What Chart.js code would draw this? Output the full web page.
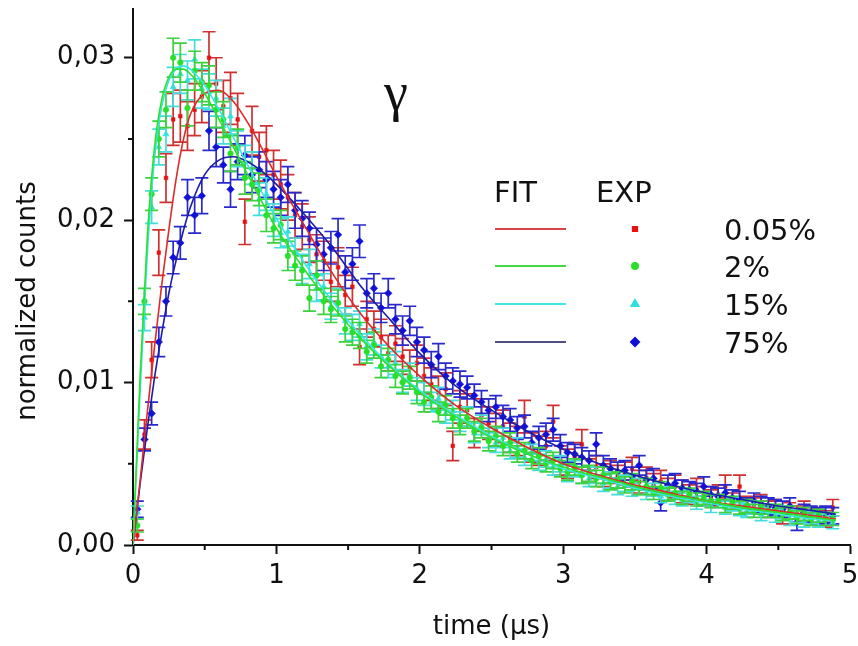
<!DOCTYPE html>
<html>
<head>
<meta charset="utf-8">
<title>gamma decay</title>
<script src="https://cdn.jsdelivr.net/npm/chart.js@4/dist/chart.umd.min.js"></script>
<style>
    html, body { margin: 0; padding: 0; background: #fff; }
    canvas { display: block; }
</style>
</head>
<body>
<canvas id="gammaChart" width="858" height="646"></canvas>
<script>
// time bins (µs), shared by all measured series
const binTimes = [
    0.03, 0.08, 0.13, 0.18, 0.23, 0.28, 0.33, 0.38, 0.43, 0.48,
    0.53, 0.58, 0.63, 0.68, 0.73, 0.78, 0.83, 0.88, 0.93, 0.98,
    1.03, 1.08, 1.13, 1.18, 1.23, 1.28, 1.33, 1.38, 1.43, 1.48,
    1.53, 1.58, 1.63, 1.68, 1.73, 1.78, 1.83, 1.88, 1.93, 1.98,
    2.03, 2.08, 2.13, 2.18, 2.23, 2.28, 2.33, 2.38, 2.43, 2.48,
    2.53, 2.58, 2.63, 2.68, 2.73, 2.78, 2.83, 2.88, 2.93, 2.98,
    3.03, 3.08, 3.13, 3.18, 3.23, 3.28, 3.33, 3.38, 3.43, 3.48,
    3.53, 3.58, 3.63, 3.68, 3.73, 3.78, 3.83, 3.88, 3.93, 3.98,
    4.03, 4.08, 4.13, 4.18, 4.23, 4.28, 4.33, 4.38, 4.43, 4.48,
    4.53, 4.58, 4.63, 4.68, 4.73, 4.78, 4.83, 4.88,
];

// 0.05%
const expRed = [
    0.0006, 0.0068, 0.0114, 0.0180, 0.0226, 0.0262, 0.0264, 0.0258, 0.0268, 0.0276,
    0.0300, 0.0284, 0.0270, 0.0275, 0.0262, 0.0199, 0.0255, 0.0239, 0.0243, 0.0228,
    0.0222, 0.0214, 0.0203, 0.0196, 0.0188, 0.0179, 0.0175, 0.0162, 0.0171, 0.0154,
    0.0159, 0.0122, 0.0139, 0.0133, 0.0128, 0.0118, 0.0124, 0.0116, 0.0109, 0.0112,
    0.0104, 0.0099, 0.0094, 0.0096, 0.0061, 0.0085, 0.0083, 0.0069, 0.0080, 0.0075,
    0.0071, 0.0073, 0.0066, 0.0064, 0.0079, 0.0060, 0.0058, 0.0061, 0.0076, 0.0052,
    0.0050, 0.0054, 0.0062, 0.0046, 0.0048, 0.0043, 0.0045, 0.0042, 0.0044, 0.0047,
    0.0039, 0.0041, 0.0037, 0.0039, 0.0034, 0.0036, 0.0033, 0.0031, 0.0034, 0.0030,
    0.0029, 0.0031, 0.0036, 0.0027, 0.0036, 0.0025, 0.0024, 0.0026, 0.0022, 0.0023,
    0.0018, 0.0021, 0.0019, 0.0022, 0.0018, 0.0017, 0.0016, 0.0023,
];
const errRed = [
    0.0003, 0.0009, 0.0011, 0.0014, 0.0015, 0.0016, 0.0016, 0.0015, 0.0016, 0.0016,
    0.0016, 0.0016, 0.0016, 0.0016, 0.0016, 0.0014, 0.0015, 0.0015, 0.0015, 0.0015,
    0.0015, 0.0014, 0.0014, 0.0014, 0.0014, 0.0012, 0.0012, 0.0012, 0.0012, 0.0012,
    0.0012, 0.0011, 0.0011, 0.0011, 0.0011, 0.0011, 0.0011, 0.0011, 0.0011, 0.0011,
    0.0011, 0.0010, 0.0010, 0.0010, 0.0009, 0.0010, 0.0010, 0.0009, 0.0010, 0.0010,
    0.0010, 0.0010, 0.0009, 0.0009, 0.0010, 0.0009, 0.0009, 0.0009, 0.0010, 0.0009,
    0.0009, 0.0009, 0.0009, 0.0007, 0.0007, 0.0007, 0.0007, 0.0007, 0.0007, 0.0007,
    0.0007, 0.0007, 0.0007, 0.0007, 0.0007, 0.0007, 0.0007, 0.0006, 0.0007, 0.0006,
    0.0005, 0.0006, 0.0007, 0.0005, 0.0007, 0.0005, 0.0005, 0.0005, 0.0005, 0.0005,
    0.0005, 0.0005, 0.0005, 0.0005, 0.0005, 0.0005, 0.0005, 0.0005,
];

// 2%
const expGreen = [
    0.0012, 0.0150, 0.0216, 0.0250, 0.0268, 0.0300, 0.0297, 0.0269, 0.0292, 0.0285,
    0.0283, 0.0268, 0.0262, 0.0241, 0.0245, 0.0226, 0.0222, 0.0219, 0.0203, 0.0195,
    0.0197, 0.0178, 0.0172, 0.0169, 0.0152, 0.0166, 0.0150, 0.0145, 0.0149, 0.0133,
    0.0131, 0.0129, 0.0119, 0.0123, 0.0110, 0.0114, 0.0104, 0.0100, 0.0103, 0.0094,
    0.0088, 0.0091, 0.0082, 0.0086, 0.0078, 0.0074, 0.0078, 0.0070, 0.0072, 0.0064,
    0.0067, 0.0061, 0.0063, 0.0056, 0.0058, 0.0052, 0.0055, 0.0050, 0.0052, 0.0047,
    0.0045, 0.0048, 0.0043, 0.0044, 0.0041, 0.0043, 0.0039, 0.0040, 0.0037, 0.0039,
    0.0035, 0.0036, 0.0032, 0.0035, 0.0031, 0.0032, 0.0029, 0.0031, 0.0028, 0.0029,
    0.0027, 0.0027, 0.0024, 0.0026, 0.0023, 0.0024, 0.0021, 0.0023, 0.0021, 0.0021,
    0.0019, 0.0020, 0.0017, 0.0019, 0.0016, 0.0018, 0.0016, 0.0016,
];
const errGreen = [
    0.0004, 0.0008, 0.0010, 0.0011, 0.0011, 0.0012, 0.0012, 0.0011, 0.0012, 0.0012,
    0.0012, 0.0011, 0.0011, 0.0011, 0.0011, 0.0010, 0.0010, 0.0010, 0.0010, 0.0009,
    0.0009, 0.0009, 0.0009, 0.0009, 0.0008, 0.0009, 0.0008, 0.0008, 0.0008, 0.0008,
    0.0008, 0.0008, 0.0007, 0.0008, 0.0007, 0.0007, 0.0007, 0.0007, 0.0007, 0.0007,
    0.0006, 0.0007, 0.0006, 0.0006, 0.0006, 0.0006, 0.0006, 0.0006, 0.0006, 0.0006,
    0.0006, 0.0006, 0.0006, 0.0005, 0.0005, 0.0005, 0.0005, 0.0005, 0.0005, 0.0005,
    0.0005, 0.0005, 0.0005, 0.0005, 0.0005, 0.0005, 0.0005, 0.0005, 0.0005, 0.0005,
    0.0004, 0.0005, 0.0004, 0.0004, 0.0004, 0.0004, 0.0004, 0.0004, 0.0004, 0.0004,
    0.0004, 0.0004, 0.0004, 0.0004, 0.0004, 0.0004, 0.0004, 0.0004, 0.0004, 0.0004,
    0.0004, 0.0004, 0.0004, 0.0004, 0.0004, 0.0004, 0.0004, 0.0004,
];

// 15%
const expCyan = [
    0.0020, 0.0140, 0.0208, 0.0245, 0.0253, 0.0282, 0.0290, 0.0286, 0.0299, 0.0281,
    0.0279, 0.0275, 0.0258, 0.0264, 0.0244, 0.0236, 0.0232, 0.0213, 0.0216, 0.0200,
    0.0192, 0.0193, 0.0180, 0.0170, 0.0173, 0.0158, 0.0159, 0.0147, 0.0150, 0.0138,
    0.0134, 0.0136, 0.0122, 0.0125, 0.0116, 0.0110, 0.0112, 0.0101, 0.0105, 0.0096,
    0.0093, 0.0088, 0.0090, 0.0081, 0.0083, 0.0076, 0.0079, 0.0069, 0.0074, 0.0066,
    0.0063, 0.0066, 0.0058, 0.0060, 0.0054, 0.0057, 0.0051, 0.0053, 0.0048, 0.0050,
    0.0044, 0.0047, 0.0043, 0.0041, 0.0043, 0.0038, 0.0040, 0.0036, 0.0038, 0.0034,
    0.0036, 0.0032, 0.0034, 0.0030, 0.0032, 0.0029, 0.0028, 0.0030, 0.0026, 0.0028,
    0.0024, 0.0027, 0.0023, 0.0025, 0.0022, 0.0021, 0.0023, 0.0019, 0.0021, 0.0018,
    0.0020, 0.0016, 0.0018, 0.0015, 0.0017, 0.0015, 0.0016, 0.0014,
];
const errCyan = [
    0.0004, 0.0008, 0.0010, 0.0011, 0.0011, 0.0012, 0.0012, 0.0012, 0.0012, 0.0012,
    0.0011, 0.0011, 0.0011, 0.0011, 0.0011, 0.0010, 0.0010, 0.0010, 0.0010, 0.0010,
    0.0009, 0.0009, 0.0009, 0.0009, 0.0009, 0.0008, 0.0008, 0.0008, 0.0008, 0.0008,
    0.0008, 0.0008, 0.0008, 0.0008, 0.0007, 0.0007, 0.0007, 0.0007, 0.0007, 0.0007,
    0.0007, 0.0006, 0.0007, 0.0006, 0.0006, 0.0006, 0.0006, 0.0006, 0.0006, 0.0006,
    0.0006, 0.0006, 0.0005, 0.0006, 0.0005, 0.0005, 0.0005, 0.0005, 0.0005, 0.0005,
    0.0005, 0.0005, 0.0005, 0.0005, 0.0005, 0.0005, 0.0005, 0.0005, 0.0005, 0.0004,
    0.0005, 0.0004, 0.0004, 0.0004, 0.0004, 0.0004, 0.0004, 0.0004, 0.0004, 0.0004,
    0.0004, 0.0004, 0.0004, 0.0004, 0.0004, 0.0004, 0.0004, 0.0004, 0.0004, 0.0004,
    0.0004, 0.0004, 0.0004, 0.0004, 0.0004, 0.0004, 0.0004, 0.0004,
];

// 75%
const expBlue = [
    0.0022, 0.0065, 0.0081, 0.0125, 0.0150, 0.0177, 0.0186, 0.0214, 0.0203, 0.0215,
    0.0255, 0.0245, 0.0234, 0.0219, 0.0236, 0.0240, 0.0228, 0.0231, 0.0225, 0.0219,
    0.0214, 0.0222, 0.0206, 0.0201, 0.0195, 0.0185, 0.0179, 0.0183, 0.0191, 0.0168,
    0.0173, 0.0187, 0.0155, 0.0158, 0.0146, 0.0155, 0.0139, 0.0132, 0.0138, 0.0125,
    0.0120, 0.0111, 0.0116, 0.0104, 0.0101, 0.0099, 0.0097, 0.0092, 0.0088, 0.0083,
    0.0085, 0.0079, 0.0077, 0.0072, 0.0073, 0.0063, 0.0066, 0.0068, 0.0071, 0.0061,
    0.0057, 0.0056, 0.0054, 0.0052, 0.0062, 0.0049, 0.0047, 0.0045, 0.0046, 0.0042,
    0.0049, 0.0040, 0.0041, 0.0026, 0.0037, 0.0038, 0.0035, 0.0034, 0.0033, 0.0036,
    0.0031, 0.0030, 0.0032, 0.0029, 0.0028, 0.0024, 0.0027, 0.0025, 0.0024, 0.0023,
    0.0022, 0.0024, 0.0014, 0.0020, 0.0019, 0.0018, 0.0019, 0.0018,
];
const errBlue = [
    0.0005, 0.0007, 0.0007, 0.0009, 0.0009, 0.0010, 0.0010, 0.0011, 0.0011, 0.0011,
    0.0012, 0.0012, 0.0011, 0.0011, 0.0011, 0.0012, 0.0011, 0.0011, 0.0011, 0.0011,
    0.0011, 0.0011, 0.0011, 0.0011, 0.0010, 0.0010, 0.0010, 0.0010, 0.0010, 0.0010,
    0.0010, 0.0010, 0.0009, 0.0009, 0.0009, 0.0009, 0.0009, 0.0009, 0.0009, 0.0009,
    0.0008, 0.0008, 0.0008, 0.0008, 0.0008, 0.0008, 0.0007, 0.0007, 0.0007, 0.0007,
    0.0007, 0.0007, 0.0007, 0.0007, 0.0007, 0.0007, 0.0007, 0.0007, 0.0007, 0.0007,
    0.0006, 0.0006, 0.0006, 0.0006, 0.0007, 0.0006, 0.0006, 0.0006, 0.0006, 0.0006,
    0.0006, 0.0006, 0.0006, 0.0005, 0.0006, 0.0006, 0.0005, 0.0005, 0.0005, 0.0006,
    0.0005, 0.0005, 0.0005, 0.0005, 0.0005, 0.0005, 0.0005, 0.0005, 0.0005, 0.0005,
    0.0005, 0.0005, 0.0005, 0.0005, 0.0005, 0.0005, 0.0005, 0.0005,
];

// fitted curves
const fitTimes = [0, 0.05, 0.1, 0.15, 0.2, 0.25, 0.3, 0.35, 0.4, 0.5, 0.6, 0.7, 0.8, 0.9, 1.0,
    1.2, 1.4, 1.6, 1.8, 2.0, 2.25, 2.5, 2.75, 3.0, 3.25, 3.5, 3.75, 4.0, 4.25, 4.5, 4.75, 4.9];
const fitRed = [0, 0.0040, 0.0082, 0.0122, 0.0160, 0.0194, 0.0225, 0.0249, 0.0265, 0.0278, 0.0280, 0.0273, 0.0260, 0.0244, 0.0227,
    0.0196, 0.0166, 0.0141, 0.0121, 0.0104, 0.0086, 0.0072, 0.0060, 0.0050, 0.0043, 0.0037, 0.0032, 0.0027, 0.0024, 0.0021, 0.0018, 0.0016];
const fitGreen = [0, 0.0105, 0.0190, 0.0245, 0.0274, 0.0288, 0.0293, 0.0293, 0.0290, 0.0278, 0.0262, 0.0245, 0.0228, 0.0211, 0.0195,
    0.0169, 0.0146, 0.0126, 0.0109, 0.0094, 0.0079, 0.0066, 0.0056, 0.0048, 0.0042, 0.0036, 0.0031, 0.0027, 0.0023, 0.0020, 0.0017, 0.0015];
const fitCyan = [0, 0.0095, 0.0180, 0.0238, 0.0270, 0.0286, 0.0293, 0.0295, 0.0293, 0.0283, 0.0268, 0.0251, 0.0234, 0.0217, 0.0201,
    0.0173, 0.0149, 0.0128, 0.0110, 0.0095, 0.0080, 0.0067, 0.0056, 0.0047, 0.0041, 0.0035, 0.0030, 0.0026, 0.0022, 0.0019, 0.0016, 0.0015];
const fitBlue = [0, 0.0038, 0.0072, 0.0103, 0.0130, 0.0155, 0.0175, 0.0193, 0.0208, 0.0228, 0.0237, 0.0239, 0.0236, 0.0230, 0.0222,
    0.0203, 0.0182, 0.0158, 0.0138, 0.0118, 0.0098, 0.0083, 0.0070, 0.0059, 0.0050, 0.0043, 0.0037, 0.0032, 0.0028, 0.0024, 0.0021, 0.0019];

const seriesLabels = ['0.05%', '2%', '15%', '75%'];

// axes
const xMajorTicks = [0, 1, 2, 3, 4, 5];
const xTickLabels = ['0', '1', '2', '3', '4', '5'];
const xMinorTicks = [0.5, 1.5, 2.5, 3.5, 4.5];
const yMajorTicks = [0, 0.01, 0.02, 0.03];
const yTickLabels = ['0,00', '0,01', '0,02', '0,03'];
const yMinorTicks = [0.005, 0.015, 0.025];

const FONT = 'DejaVu Sans';
const INK = '#111111';

function toPoints(xs, ys) {
    return xs.map((x, i) => ({ x: x, y: ys[i] }));
}

function fitDataset(values, color) {
    return {
        data: toPoints(fitTimes, values),
        showLine: true,
        borderColor: color,
        borderWidth: 1.6,
        pointRadius: 0,
        cubicInterpolationMode: 'monotone',
        fill: false,
    };
}

function expDataset(values, errors, color, barColor, style, radius) {
    return {
        data: toPoints(binTimes, values),
        errors: errors,
        errorColor: barColor,
        showLine: false,
        pointStyle: style,
        pointRadius: radius,
        pointBackgroundColor: color,
        pointBorderColor: color,
        pointBorderWidth: 0.5,
    };
}

const errorBars = {
    id: 'errorBars',
    beforeDatasetDraw(chart, args) {
        const dataset = chart.data.datasets[args.index];
        if (!dataset.errors) {
            return;
        }
        const { ctx, scales: { x, y } } = chart;
        const cap = 6.5;
        ctx.save();
        ctx.strokeStyle = dataset.errorColor;
        ctx.lineWidth = 1.7;
        ctx.beginPath();
        dataset.data.forEach((point, i) => {
            const px = x.getPixelForValue(point.x);
            const top = y.getPixelForValue(point.y + dataset.errors[i]);
            const bottom = y.getPixelForValue(Math.max(point.y - dataset.errors[i], 0));
            ctx.moveTo(px, top);
            ctx.lineTo(px, bottom);
            ctx.moveTo(px - cap, top);
            ctx.lineTo(px + cap, top);
            ctx.moveTo(px - cap, bottom);
            ctx.lineTo(px + cap, bottom);
        });
        ctx.stroke();
        ctx.restore();
    },
};

const minorTicks = {
    id: 'minorTicks',
    afterDraw(chart) {
        const { ctx, scales: { x, y } } = chart;
        ctx.save();
        ctx.strokeStyle = INK;
        ctx.lineWidth = 2;
        ctx.beginPath();
        xMinorTicks.forEach((v) => {
            const px = x.getPixelForValue(v);
            ctx.moveTo(px, x.top);
            ctx.lineTo(px, x.top + 5);
        });
        yMinorTicks.forEach((v) => {
            const py = y.getPixelForValue(v);
            ctx.moveTo(y.right, py);
            ctx.lineTo(y.right - 5, py);
        });
        ctx.stroke();
        ctx.restore();
    },
};

// hand-placed key (FIT / EXP columns), the gamma label and the y title,
// which sits a little below the middle of the axis in the original
const keyPanel = {
    id: 'keyPanel',
    afterDraw(chart) {
        const { ctx } = chart;
        const rows = [229, 266, 304, 342];
        const lineColors = ['#d84444', '#44d844', '#44e4e4', '#50507e'];
        const markers = [
            { style: 'rect', color: '#e81010', radius: 3 },
            { style: 'circle', color: '#28e028', radius: 3 },
            { style: 'triangle', color: '#30e0e0', radius: 4 },
            { style: 'rectRot', color: '#1010d8', radius: 4 },
        ];

        ctx.save();
        ctx.fillStyle = INK;
        ctx.textBaseline = 'alphabetic';
        ctx.textAlign = 'left';
        ctx.font = '29px "' + FONT + '"';
        ctx.fillText('FIT', 494, 202);
        ctx.fillText('EXP', 596, 202);

        rows.forEach((rowY, i) => {
            ctx.strokeStyle = lineColors[i];
            ctx.lineWidth = 2;
            ctx.beginPath();
            ctx.moveTo(495, rowY);
            ctx.lineTo(566, rowY);
            ctx.stroke();

            ctx.fillStyle = markers[i].color;
            ctx.strokeStyle = markers[i].color;
            Chart.helpers.drawPoint(ctx, {
                pointStyle: markers[i].style,
                radius: markers[i].radius,
                borderWidth: 0.5,
            }, 635, rowY);

            ctx.fillStyle = INK;
            ctx.fillText(seriesLabels[i], 724, rowY + 11);
        });

        ctx.font = '54px "Liberation Serif"';
        ctx.textAlign = 'center';
        ctx.fillText('γ', 396, 110);

        ctx.translate(35, 301);
        ctx.rotate(-Math.PI / 2);
        ctx.font = '26px "' + FONT + '"';
        ctx.fillText('normalized counts', 0, 0);
        ctx.restore();
    },
};

new Chart(document.getElementById('gammaChart'), {
    type: 'scatter',
    data: {
        datasets: [
            fitDataset(fitGreen, '#2ee02e'),
            fitDataset(fitCyan, '#38e6e6'),
            fitDataset(fitRed, '#dd2a2a'),
            fitDataset(fitBlue, '#1c1ca8'),
            expDataset(expGreen, errGreen, '#28e028', '#3cd23c', 'circle', 2.8),
            expDataset(expCyan, errCyan, '#30e0e0', '#44dcdc', 'triangle', 3.5),
            expDataset(expBlue, errBlue, '#1010d8', '#2a2acc', 'rectRot', 3.8),
            expDataset(expRed, errRed, '#e81010', '#d03030', 'rect', 2.6),
        ],
    },
    options: {
        responsive: false,
        animation: false,
        layout: {
            padding: { top: 9, right: 8, bottom: 0, left: 0 },
        },
        plugins: {
            legend: { display: false },
            tooltip: { enabled: false },
        },
        scales: {
            x: {
                type: 'linear',
                min: 0,
                max: 5,
                afterBuildTicks: (scale) => {
                    scale.ticks = xMajorTicks.map((v) => ({ value: v }));
                },
                afterFit: (scale) => {
                    scale.height = 101;
                    scale.paddingLeft = 0;
                    scale.paddingRight = 0;
                },
                grid: {
                    drawOnChartArea: false,
                    tickLength: 9,
                    tickWidth: 2,
                    tickColor: INK,
                },
                border: { color: INK, width: 2 },
                ticks: {
                    autoSkip: false,
                    maxRotation: 0,
                    padding: 7,
                    color: INK,
                    font: { family: FONT, size: 26 },
                    callback: (value, index) => xTickLabels[index],
                },
                title: {
                    display: true,
                    text: 'time (μs)',
                    color: INK,
                    font: { family: FONT, size: 26 },
                    padding: { top: 0, bottom: 3 },
                },
            },
            y: {
                type: 'linear',
                min: 0,
                max: 0.033,
                afterBuildTicks: (scale) => {
                    scale.ticks = yMajorTicks.map((v) => ({ value: v }));
                },
                afterFit: (scale) => {
                    scale.width = 133;
                    scale.paddingTop = 0;
                    scale.paddingBottom = 0;
                },
                grid: {
                    drawOnChartArea: false,
                    tickLength: 9,
                    tickWidth: 2,
                    tickColor: INK,
                },
                border: { color: INK, width: 2 },
                ticks: {
                    autoSkip: false,
                    padding: 9,
                    color: INK,
                    font: { family: FONT, size: 26 },
                    callback: (value, index) => yTickLabels[index],
                },
            },
        },
    },
    plugins: [errorBars, minorTicks, keyPanel],
});
</script>
</body>
</html>
